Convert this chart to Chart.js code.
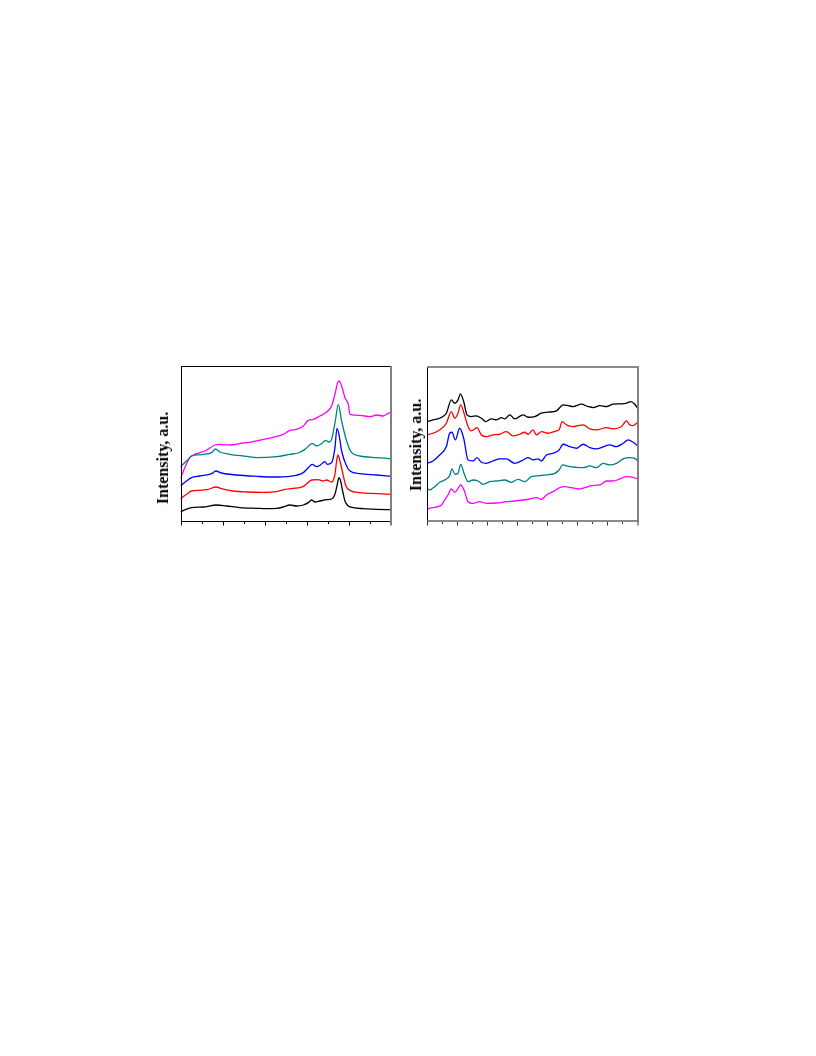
<!DOCTYPE html>
<html>
<head>
<meta charset="utf-8">
<script src="https://cdn.jsdelivr.net/npm/chart.js@4/dist/chart.umd.min.js"></script>
<style>
  html, body { margin: 0; padding: 0; background: #fff; }
  body { width: 816px; height: 1056px; position: relative; overflow: hidden; }
  canvas { position: absolute; }
  .ylab {
    position: absolute;
    font-family: "Liberation Serif", "Times New Roman", serif;
    font-weight: bold;
    font-size: 16px;
    color: #000;
    white-space: nowrap;
    transform: translate(-50%, -50%) rotate(-90deg);
  }
</style>
</head>
<body>
<canvas id="left" width="250" height="190" style="left:160px;top:350px;width:250px;height:190px"></canvas>
<canvas id="right" width="250" height="190" style="left:410px;top:350px;width:250px;height:190px"></canvas>
<div class="ylab" style="left:163px;top:458px">Intensity, a.u.</div>
<div class="ylab" style="left:416px;top:445px">Intensity, a.u.</div>
<script>
// ---------- Left panel data (arbitrary units) ----------
const leftBlackX = [0,33,68,108,138,178,228,258,288,308,328,348,368,383,393,403,418,438,453,463,470,475,480,486,493,503,518,548,588,631];
const leftBlackY = [28,40,42,48,45,40,38,37,38,42,48,45,48,55,63,57,60,64,66,80,110,130,120,90,60,45,40,37,35,34];

const leftRedX = [0,18,33,58,83,106,123,158,198,248,288,313,338,358,373,393,413,428,438,453,463,468,472,478,486,496,508,538,588,631];
const leftRedY = [67,80,90,92,95,102,97,90,87,86,88,95,98,100,107,123,124,120,123,117,140,180,198,180,145,105,92,85,82,80];

const leftBlueX = [0,18,33,58,93,106,123,168,228,278,328,368,383,395,408,418,433,440,453,463,469,475,483,498,508,538,588,631];
const leftBlueY = [105,120,130,135,142,150,144,138,134,132,134,145,160,170,163,167,178,170,175,220,278,260,210,165,150,142,138,134];

const leftTealX = [0,18,33,68,93,105,118,148,198,228,288,328,353,373,395,408,423,435,445,453,464,473,483,498,513,538,588,631];
const leftTealY = [163,180,195,200,205,216,207,200,194,190,193,200,204,215,232,225,232,242,237,245,300,350,300,240,205,195,190,187];

const leftMagentaX = [0,13,28,48,73,103,118,148,188,218,248,278,308,328,348,368,383,398,418,438,453,463,471,476,483,493,503,508,538,568,588,608,628,631];
const leftMagentaY = [128,160,190,202,210,228,230,228,234,238,245,251,260,272,275,285,302,305,315,327,345,380,415,420,405,370,350,320,317,313,318,315,325,322];

// ---------- Right panel data (arbitrary units) ----------
const rightBlackX = [0,18,38,58,73,83,93,100,110,120,133,148,163,176,193,208,223,233,248,263,288,303,323,343,363,388,408,423,438,463,483,498,518,538,558,583,598,611,623,631];
const rightBlackY = [297,302,307,322,362,352,362,380,357,317,312,314,307,297,305,302,309,305,317,305,317,310,312,322,325,329,347,345,342,349,342,339,345,342,349,350,352,357,349,337];

const rightRedX = [0,18,38,58,73,83,93,101,111,123,133,150,163,178,198,218,238,258,278,293,303,318,328,343,363,388,396,405,418,438,468,488,508,538,558,583,598,608,618,631];
const rightRedY = [257,262,272,292,327,307,322,347,322,282,269,279,257,252,257,259,267,254,259,265,259,272,257,267,262,269,272,297,287,282,287,275,272,279,275,282,299,287,285,294];

const rightBlueX = [0,18,38,58,68,75,85,98,110,123,138,150,163,178,198,218,238,263,283,303,318,333,343,358,378,396,408,428,448,468,488,508,548,568,588,603,618,631];
const rightBlueY = [172,179,197,222,262,265,242,277,247,182,179,189,175,172,179,185,185,172,179,189,182,185,179,197,202,212,229,222,217,229,219,215,227,222,232,242,235,225];

const rightTealX = [0,8,23,38,58,68,75,84,93,101,111,123,138,153,168,188,208,233,253,273,293,313,338,358,383,396,406,428,448,468,488,508,528,548,568,588,608,623,631];
const rightTealY = [97,92,102,115,125,135,155,139,142,169,142,117,122,119,109,117,119,122,115,124,117,132,135,137,142,152,167,162,160,159,164,159,172,167,172,185,189,187,179];

const rightMagentaX = [0,18,33,43,53,63,73,84,93,101,111,123,138,158,178,208,238,263,288,308,328,343,358,378,398,413,433,453,473,493,518,538,558,578,598,618,631];
const rightMagentaY = [35,39,42,47,62,77,95,85,97,107,92,57,52,57,52,53,57,59,62,65,69,64,77,87,99,102,99,95,99,105,107,119,119,125,132,130,125];

// Axis ranges and tick counts (ticks are unlabeled in the reference)
const leftXRange = [0, 631];
const leftYRange = [0, 465];
const rightXRange = [0, 631];
const rightYRange = [0, 462];
const leftTickCount = 10;
const rightTickCount = 14;

const seriesColors = ['#000000', '#ff0000', '#0000ff', '#008080', '#ff00ff'];

function pts(xs, ys) { return xs.map((x, i) => ({ x: x, y: ys[i] })); }

function makeDatasets(list) {
  return list.map((s, i) => ({
    data: pts(s[0], s[1]),
    borderColor: seriesColors[i],
    borderWidth: 1.3,
    pointRadius: 0,
    fill: false,
    cubicInterpolationMode: 'monotone'
  }));
}

function framePlugin(style) {
  return {
    id: 'frame',
    afterDraw(chart) {
      const ctx = chart.ctx;
      const a = chart.chartArea;
      const xs = chart.scales.x;
      ctx.save();
      ctx.lineCap = 'butt';
      const line = (x1, y1, x2, y2, c, w) => {
        ctx.strokeStyle = c; ctx.lineWidth = w;
        ctx.beginPath(); ctx.moveTo(x1, y1); ctx.lineTo(x2, y2); ctx.stroke();
      };
      const L = Math.round(a.left) + 0.5, R = Math.round(a.right);
      const T = Math.round(a.top), B = Math.round(a.bottom);
      line(L, T, L, B + 1, '#000', 1);
      if (style === 'left') {
        line(L, T + 0.5, R, T + 0.5, '#000', 1);
        line(L, B + 0.5, R, B + 0.5, '#000', 1);
        line(R, T, R, B + 1, '#808080', 2);
      } else {
        line(L, T, R + 1, T, '#8a8a8a', 2);
        line(L, B, R + 1, B, '#8a8a8a', 2);
        line(R, T, R, B + 1, '#808080', 2);
      }
      const n = style === 'left' ? leftTickCount : rightTickCount;
      const min = xs.min, max = xs.max;
      for (let i = 0; i <= n; i++) {
        const v = min + (max - min) * i / n;
        let px = Math.round(xs.getPixelForValue(v)) + 0.5;
        if (i === n) px = R;
        const len = (i % 2 === 0) ? 3.5 : 2;
        const c = style === 'left' ? '#000' : '#333';
        line(px, B + 1, px, B + 1 + len, c, 1);
      }
      ctx.restore();
    }
  };
}

function makeChart(id, datasets, xr, yr, pad, style) {
  return new Chart(document.getElementById(id), {
    type: 'line',
    data: { datasets: datasets },
    options: {
      responsive: false,
      devicePixelRatio: 1,
      animation: false,
      events: [],
      layout: { padding: pad },
      plugins: { legend: { display: false }, tooltip: { enabled: false }, title: { display: false } },
      scales: {
        x: { type: 'linear', min: xr[0], max: xr[1], display: false },
        y: { type: 'linear', min: yr[0], max: yr[1], display: false }
      }
    },
    plugins: [framePlugin(style)]
  });
}

makeChart('left', makeDatasets([
  [leftBlackX, leftBlackY], [leftRedX, leftRedY], [leftBlueX, leftBlueY],
  [leftTealX, leftTealY], [leftMagentaX, leftMagentaY]
]), leftXRange, leftYRange, { left: 20.5, top: 16, right: 19, bottom: 19 }, 'left');

makeChart('right', makeDatasets([
  [rightBlackX, rightBlackY], [rightRedX, rightRedY], [rightBlueX, rightBlueY],
  [rightTealX, rightTealY], [rightMagentaX, rightMagentaY]
]), rightXRange, rightYRange, { left: 17, top: 16.5, right: 22.5, bottom: 19.3 }, 'right');
</script>
</body>
</html>
